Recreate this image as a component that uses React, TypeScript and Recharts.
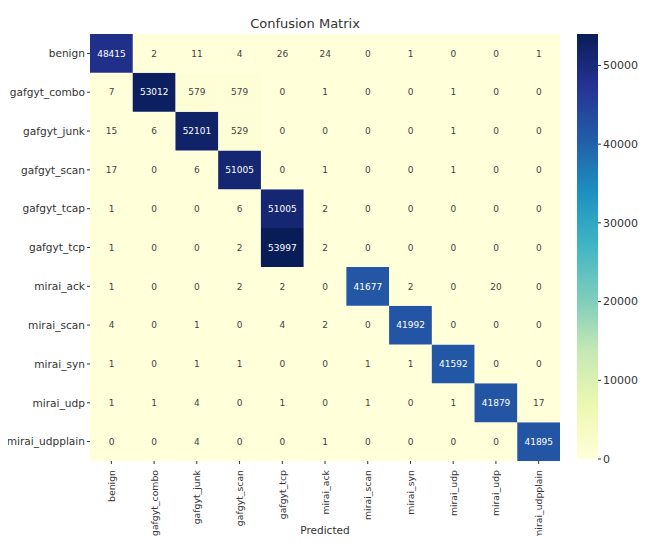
import { BarChart, Bar, XAxis, YAxis, Cell, LabelList } from "recharts";

// confusion matrix values, rows = actual, columns = predicted
const rowLabels = [
  "benign",
  "gafgyt_combo",
  "gafgyt_junk",
  "gafgyt_scan",
  "gafgyt_tcap",
  "gafgyt_tcp",
  "mirai_ack",
  "mirai_scan",
  "mirai_syn",
  "mirai_udp",
  "mirai_udpplain",
];

const colLabels = [
  "benign",
  "gafgyt_combo",
  "gafgyt_junk",
  "gafgyt_scan",
  "gafgyt_tcp",
  "mirai_ack",
  "mirai_scan",
  "mirai_syn",
  "mirai_udp",
  "mirai_udp",
  "mirai_udpplain",
];

const benign = [48415, 2, 11, 4, 26, 24, 0, 1, 0, 0, 1];
const gafgytCombo = [7, 53012, 579, 579, 0, 1, 0, 0, 1, 0, 0];
const gafgytJunk = [15, 6, 52101, 529, 0, 0, 0, 0, 1, 0, 0];
const gafgytScan = [17, 0, 6, 51005, 0, 1, 0, 0, 1, 0, 0];
const gafgytTcap = [1, 0, 0, 6, 51005, 2, 0, 0, 0, 0, 0];
const gafgytTcp = [1, 0, 0, 2, 53997, 2, 0, 0, 0, 0, 0];
const miraiAck = [1, 0, 0, 2, 2, 0, 41677, 2, 0, 20, 0];
const miraiScan = [4, 0, 1, 0, 4, 2, 0, 41992, 0, 0, 0];
const miraiSyn = [1, 0, 1, 1, 0, 0, 1, 1, 41592, 0, 0];
const miraiUdp = [1, 1, 4, 0, 1, 0, 1, 0, 1, 41879, 17];
const miraiUdpplain = [0, 0, 4, 0, 0, 1, 0, 0, 0, 0, 41895];

const matrix = [
  benign,
  gafgytCombo,
  gafgytJunk,
  gafgytScan,
  gafgytTcap,
  gafgytTcp,
  miraiAck,
  miraiScan,
  miraiSyn,
  miraiUdp,
  miraiUdpplain,
];

const colorbarTicks = [0, 10000, 20000, 30000, 40000, 50000];

// YlGnBu
const STOPS = [
  "#ffffd9",
  "#edf8b1",
  "#c7e9b4",
  "#7fcdbb",
  "#41b6c4",
  "#1d91c0",
  "#225ea8",
  "#253494",
  "#081d58",
];

const vmax = Math.max(...matrix.flat());

function hex(c: string) {
  return [1, 3, 5].map((i) => parseInt(c.slice(i, i + 2), 16));
}

function colorFor(v: number) {
  const t = Math.min(1, Math.max(0, v / vmax)) * (STOPS.length - 1);
  const i = Math.min(STOPS.length - 2, Math.floor(t));
  const f = t - i;
  const a = hex(STOPS[i]);
  const b = hex(STOPS[i + 1]);
  const rgb = a.map((x, k) => Math.round(x + (b[k] - x) * f));
  return `rgb(${rgb.join(",")})`;
}

// one entry per predicted column, every row cell has height 1
const chartData = colLabels.map((name, c) => {
  const d: any = { name };
  rowLabels.forEach((_, r) => {
    d[`r${r}`] = 1;
    d[`v${r}`] = matrix[r][c];
  });
  return d;
});

const rowTicks = rowLabels.map((_, i) => i + 0.5);
const FONT = "DejaVu Sans, sans-serif";
const TEXT = "#333";

function ColTick(props: any) {
  const { x, y, payload } = props;
  return (
    <g transform={`translate(${x},${y})`}>
      <text
        transform="rotate(-90)"
        x={-4}
        y={0}
        dy={3.5}
        textAnchor="end"
        fontSize={9.3}
        fill={TEXT}
        fontFamily={FONT}
      >
        {payload.value}
      </text>
    </g>
  );
}

function cellLabel(r: number) {
  return (props: any) => {
    const { x, y, width, height, value } = props;
    const dark = value / vmax > 0.45;
    return (
      <text
        x={x + width / 2}
        y={y + height / 2}
        dy={3.2}
        textAnchor="middle"
        fontSize={9}
        fontFamily={FONT}
        fill={dark ? "#fff" : "#444"}
        key={`lbl-${r}-${props.index}`}
      >
        {value}
      </text>
    );
  };
}

export default function App() {
  const rowsBottomUp = rowLabels.map((_, i) => rowLabels.length - 1 - i);

  return (
    <div
      style={{
        position: "relative",
        width: 646,
        height: 544,
        margin: -8,
        background: "#fff",
        fontFamily: FONT,
        overflow: "hidden",
      }}
    >
      <div
        style={{
          position: "absolute",
          left: 205,
          width: 200,
          top: 16,
          textAlign: "center",
          fontSize: 13,
          lineHeight: "15px",
          color: TEXT,
        }}
      >
        Confusion Matrix
      </div>

      <div style={{ position: "absolute", left: 0, top: 0 }}>
        <BarChart
          width={560}
          height={544}
          data={chartData}
          margin={{ top: 34, right: 0, bottom: 0, left: 0 }}
          barCategoryGap={0}
          barGap={0}
        >
          <XAxis
            dataKey="name"
            type="category"
            interval={0}
            height={83}
            axisLine={false}
            tickLine={{ stroke: TEXT }}
            tickSize={3}
            tick={<ColTick />}
          />
          <YAxis
            type="number"
            domain={[0, rowLabels.length]}
            ticks={rowTicks}
            interval={0}
            width={90}
            axisLine={false}
            tickLine={{ stroke: TEXT }}
            tickSize={3}
            tick={{ fontSize: 10.6, fill: TEXT, fontFamily: FONT }}
            tickFormatter={(t: number) =>
              rowLabels[rowLabels.length - 1 - Math.floor(t)]
            }
          />
          {rowsBottomUp.map((r) => (
            <Bar
              key={`row-${r}`}
              dataKey={`r${r}`}
              stackId="m"
              isAnimationActive={false}
            >
              {chartData.map((d, c) => (
                <Cell key={`cell-${r}-${c}`} fill={colorFor(d[`v${r}`])} />
              ))}
              <LabelList dataKey={`v${r}`} content={cellLabel(r)} />
            </Bar>
          ))}
        </BarChart>
      </div>

      <div
        style={{
          position: "absolute",
          left: 275,
          width: 100,
          top: 524,
          textAlign: "center",
          fontSize: 10.5,
          lineHeight: "13px",
          color: TEXT,
        }}
      >
        Predicted
      </div>

      <div style={{ position: "absolute", left: 577, top: 0 }}>
        <BarChart
          width={69}
          height={544}
          data={[{ name: "cb", v: vmax }]}
          margin={{ top: 34, right: 0, bottom: 85, left: 0 }}
          barCategoryGap={0}
        >
          <defs>
            <linearGradient id="ylgnbu" x1="0" y1="1" x2="0" y2="0">
              {STOPS.map((s, i) => (
                <stop
                  key={s}
                  offset={`${(i / (STOPS.length - 1)) * 100}%`}
                  stopColor={s}
                />
              ))}
            </linearGradient>
          </defs>
          <XAxis dataKey="name" hide />
          <YAxis
            orientation="right"
            type="number"
            domain={[0, vmax]}
            ticks={colorbarTicks}
            interval={0}
            width={48}
            axisLine={false}
            tickLine={{ stroke: TEXT }}
            tickSize={3}
            tick={{ fontSize: 11, fill: TEXT, fontFamily: FONT }}
          />
          <Bar dataKey="v" fill="url(#ylgnbu)" isAnimationActive={false} />
        </BarChart>
      </div>
    </div>
  );
}
